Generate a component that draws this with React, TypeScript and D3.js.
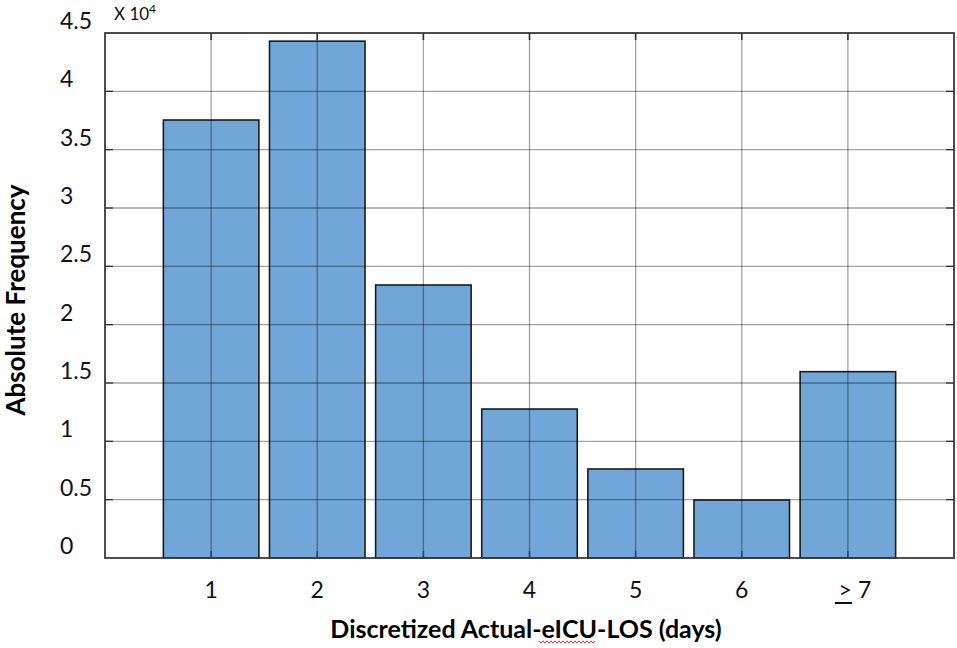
import React from "react";
import * as d3 from "d3";

const categories = ["1", "2", "3", "4", "5", "6", "≥7"];
const frequencies = [37540, 44300, 23400, 12770, 7630, 4970, 15970];
const yTicks = [0, 0.5, 1, 1.5, 2, 2.5, 3, 3.5, 4, 4.5];
const yTickLabels = ["0", "0.5", "1", "1.5", "2", "2.5", "3", "3.5", "4", "4.5"];
const xTitle = "Discretized Actual-eICU-LOS (days)";
const yTitle = "Absolute Frequency";

const W = 957, H = 648;
const left = 105, right = 954, top = 33, bottom = 558;

export default function App() {
  const x = d3.scaleLinear().domain([0, 8]).range([left, right]);
  const y = d3.scaleLinear().domain([0, 4.5]).range([bottom, top]);
  const barW = (x(1) - x(0)) * 0.9;
  const font = "Lato, 'Open Sans', sans-serif";
  const grid = "rgba(0,0,0,0.36)";

  // squiggle path under "eICU"
  const sq: string[] = [];
  for (let i = 0; i <= 28; i++) {
    const px = 539 + i * 2;
    const py = 642 + (i % 2 === 0 ? -1.2 : 1.2);
    sq.push((i === 0 ? "M" : "L") + px + "," + py);
  }

  return (
    <svg width={W} height={H} style={{ position: "absolute", left: 0, top: 0, background: "#fff" }}>
      <rect x={0} y={0} width={W} height={H} fill="#fff" />
      {frequencies.map((v, i) => (
        <rect
          key={i}
          x={x(i + 1) - barW / 2}
          y={y(v / 1e4)}
          width={barW}
          height={bottom - y(v / 1e4)}
          fill="#71A6D8"
          stroke="#1b1b1b"
          strokeWidth={1.6}
        />
      ))}
      {/* grid */}
      {yTicks.slice(1, -1).map((t) => (
        <line key={"gy" + t} x1={left} x2={right} y1={y(t)} y2={y(t)} stroke={grid} strokeWidth={1.3} />
      ))}
      {categories.map((c, i) => (
        <line key={"gx" + i} x1={x(i + 1)} x2={x(i + 1)} y1={top} y2={bottom} stroke={grid} strokeWidth={1.3} />
      ))}
      {/* ticks */}
      {yTicks.slice(1, -1).map((t) => (
        <g key={"ty" + t}>
          <line x1={left} x2={left + 8} y1={y(t)} y2={y(t)} stroke="#333" strokeWidth={1.3} />
          <line x1={right - 8} x2={right} y1={y(t)} y2={y(t)} stroke="#333" strokeWidth={1.3} />
        </g>
      ))}
      {categories.map((c, i) => (
        <g key={"tx" + i}>
          <line x1={x(i + 1)} x2={x(i + 1)} y1={top} y2={top + 7} stroke="#333" strokeWidth={1.6} />
          <line x1={x(i + 1)} x2={x(i + 1)} y1={bottom - 7} y2={bottom} stroke="#1a4a7a" strokeWidth={1.6} />
        </g>
      ))}
      {/* frame */}
      <rect x={left} y={top} width={right - left} height={bottom - top} fill="none" stroke="#3a3a3a" strokeWidth={1.8} />
      {/* y tick labels */}
      {yTicks.map((t, i) => (
        <text key={"ly" + t} x={60} y={y(t) - 4} fontFamily={font} fontSize={23} fill="#111">
          {yTickLabels[i]}
        </text>
      ))}
      <text x={114} y={20} fontFamily={font} fontSize={17} fill="#111">
        X 10<tspan dy={-7} fontSize={12}>4</tspan>
      </text>
      {/* x tick labels */}
      {categories.map((c, i) =>
        c === "≥7" ? (
          <g key={"lx" + i}>
            <text x={x(i + 1) + 4} y={598} fontFamily={font} fontSize={23} textAnchor="end" fill="#111">
              {">"}
            </text>
            <line x1={x(i + 1) - 13} x2={x(i + 1) + 4} y1={603} y2={603} stroke="#111" strokeWidth={2} />
            <text x={x(i + 1) + 10} y={598} fontFamily={font} fontSize={23} textAnchor="start" fill="#111">
              7
            </text>
          </g>
        ) : (
          <text key={"lx" + i} x={x(i + 1)} y={598} fontFamily={font} fontSize={23} textAnchor="middle" fill="#111">
            {c}
          </text>
        )
      )}
      <text x={526} y={638} fontFamily={font} fontSize={25} fontWeight="bold" textAnchor="middle" fill="#000">
        {xTitle}
      </text>
      <path d={sq.join(" ")} fill="none" stroke="#d22" strokeWidth={0.9} />
      <text
        transform={`translate(25,${300}) rotate(-90)`}
        fontFamily={font}
        fontSize={26}
        fontWeight="bold"
        textAnchor="middle"
        fill="#000"
      >
        {yTitle}
      </text>
    </svg>
  );
}
